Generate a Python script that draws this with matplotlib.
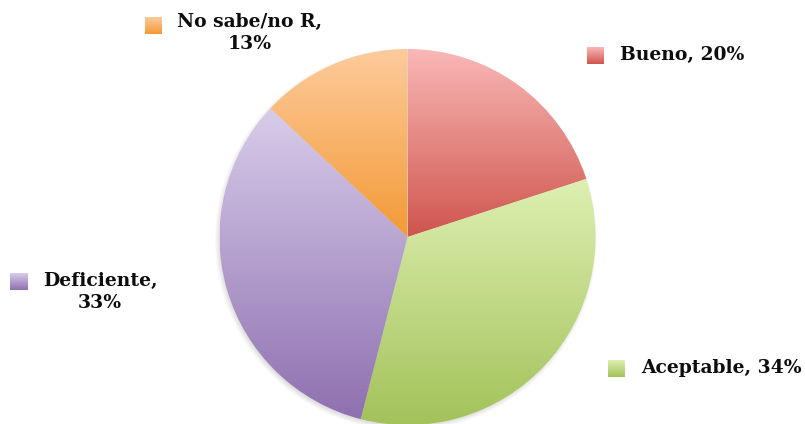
import numpy as np
import matplotlib
matplotlib.use("Agg")
import matplotlib.pyplot as plt
from matplotlib.colors import to_rgb
from matplotlib.patches import Circle

# Survey answers, clockwise from 12 o'clock
categories = ["Bueno", "Aceptable", "Deficiente", "No sabe/no R"]
percentages = [20, 34, 33, 13]
labels = ["Bueno, 20%", "Aceptable, 34%", "Deficiente,\n33%", "No sabe/no R,\n13%"]

# light (top) and dark (bottom) shade of each slice's vertical gradient
top_colors = ["#F9B8B6", "#DDF0B2", "#D8CCEA", "#FDCB9C"]
bottom_colors = ["#CF554E", "#A3C25A", "#8E70AF", "#F39A36"]

W, H = 805, 424
fig = plt.figure(figsize=(W / 100, H / 100), dpi=100)
ax = fig.add_axes([0, 0, 1, 1])

cx, cy, r = 407.5, H - 237, 188


def gradient(c_top, c_bot, n=256):
    t = np.linspace(0, 1, n)[:, None]
    a = np.array(to_rgb(c_bot))
    b = np.array(to_rgb(c_top))
    return (a + (b - a) * t)[:, None, :]  # row 0 = bottom


# soft drop shadow under the pie
for k in range(6):
    ax.add_patch(Circle((cx - 1.5, cy - 2.5), r + 3 - k, facecolor="#000000",
                        alpha=0.025, linewidth=0, zorder=0))

wedges, _ = ax.pie(percentages, center=(cx, cy), radius=r, startangle=90,
                   counterclock=False, frame=True,
                   wedgeprops=dict(linewidth=0))

for w, ct, cb in zip(wedges, top_colors, bottom_colors):
    t1, t2 = w.theta1, w.theta2
    angs = [t1, t2] + [a for a in range(-360, 721, 90) if t1 < a < t2]
    xs = [cx] + [cx + r * np.cos(np.radians(a)) for a in angs]
    ys = [cy] + [cy + r * np.sin(np.radians(a)) for a in angs]
    w.set_facecolor("none")
    im = ax.imshow(gradient(ct, cb), extent=[min(xs), max(xs), min(ys), max(ys)],
                   origin="lower", aspect="auto", interpolation="bilinear", zorder=1)
    im.set_clip_path(w)

# legend-style markers with labels placed around the pie
marker_pos = [(587, 47), (608, 360), (10, 273), (145, 17)]  # upper-left corners
text_pos = [(620, 55, "left"), (641, 368, "left"), (100, 292, "center"), (250, 33, "center")]
size = 17
for (mx, my), (tx, ty, ha), lab, ct, cb in zip(marker_pos, text_pos, labels,
                                               top_colors, bottom_colors):
    ax.imshow(gradient(ct, cb), extent=[mx, mx + size, H - my - size, H - my],
              origin="lower", aspect="auto", interpolation="bilinear", zorder=2)
    ax.text(tx, H - ty, lab, ha=ha, va="center", multialignment="center",
            fontsize=13.5, fontweight="heavy", family="DejaVu Serif",
            color="#0d0d0d", linespacing=1.3)

ax.set_xlim(0, W)
ax.set_ylim(0, H)
ax.set_aspect("auto")
ax.axis("off")
fig.savefig("out.png", dpi=100)
